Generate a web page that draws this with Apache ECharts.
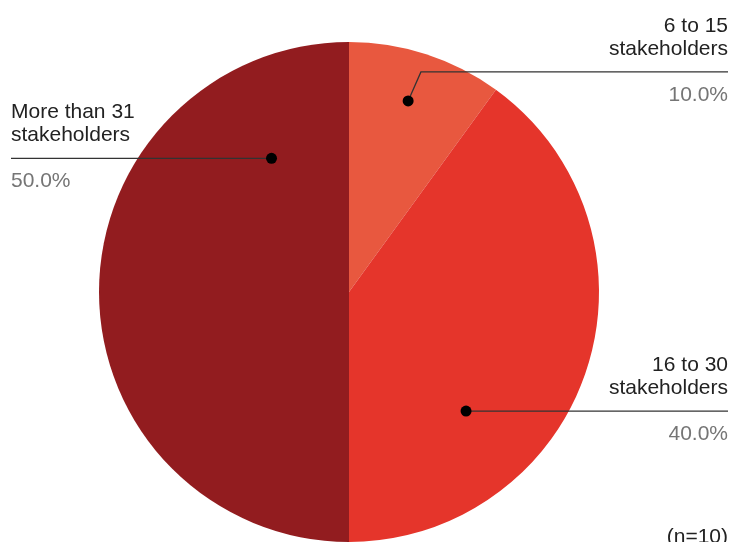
<!DOCTYPE html>
<html><head><meta charset="utf-8">
<script src="https://cdn.jsdelivr.net/npm/echarts@6/dist/echarts.min.js"></script>
<style>html,body{margin:0;padding:0;background:#fff}#c{width:732px;height:542px}</style>
</head><body><div id="c"></div>
<script>
// ---- data ----
const categories = ['6 to 15\nstakeholders', '16 to 30\nstakeholders', 'More than 31\nstakeholders'];
const values = [1, 4, 5];
const colors = ['#E8583F', '#E5352B', '#921C1F'];
const note = '(n=10)';

// ---- layout settings ----
const W = 732, H = 542;
const CX = 349, CY = 292, R = 250;
const LH = 23;
// leader line anchors: dot (angle in degrees, fraction of radius), optional elbow, side of text
const anchors = [
  { angle: 72.8, frac: 0.80, elbowAngle: 71.9, elbowFrac: 0.926, side: 'right' },
  { angle: -45.5, frac: 0.668, side: 'right' },
  { angle: 120.1, frac: 0.618, side: 'left' }
];
function pt(angleDeg, frac) {
  const a = angleDeg * Math.PI / 180;
  return [CX + Math.cos(a) * R * frac, CY - Math.sin(a) * R * frac];
}
function geom(i) {
  const a = anchors[i];
  const d = pt(a.angle, a.frac);
  const e = a.elbowAngle != null ? pt(a.elbowAngle, a.elbowFrac) : d;
  const endX = a.side === 'right' ? W - 4 : 11;
  return { d, e, endX, lineY: e[1], side: a.side };
}

const chart = echarts.init(document.getElementById('c'), null, { renderer: 'canvas' });
const font = '"Liberation Sans", Arial, sans-serif';

const leaders = [];
anchors.forEach((a, i) => {
  const g = geom(i);
  leaders.push({ type: 'polyline', z: 100, shape: { points: [g.d, g.e, [g.endX, g.lineY]] },
    style: { stroke: '#333', lineWidth: 1.3, fill: null } });
  leaders.push({ type: 'circle', z: 101, shape: { cx: g.d[0], cy: g.d[1], r: 5.5 }, style: { fill: '#000' } });
});

chart.setOption({
  animation: false,
  backgroundColor: '#fff',
  color: colors,
  series: [{
    type: 'pie',
    center: [CX, CY],
    radius: R,
    startAngle: 90,
    clockwise: true,
    avoidLabelOverlap: false,
    itemStyle: { borderWidth: 0 },
    emphasis: { disabled: true },
    label: {
      show: true,
      position: 'outside',
      fontFamily: font,
      fontSize: 21,
      lineHeight: LH,
      color: '#222',
      formatter: function (p) { return '{n|' + p.name + '}\n\n{p|' + p.percent.toFixed(1) + '%}'; },
      rich: {
        n: { fontFamily: font, fontSize: 21, lineHeight: LH, color: '#222' },
        p: { fontFamily: font, fontSize: 21, lineHeight: LH, color: '#757575' }
      }
    },
    labelLine: { show: false },
    labelLayout: function (params) {
      const g = geom(params.dataIndex);
      return {
        x: g.endX,
        y: g.lineY - 2.5 * LH,
        align: g.side === 'right' ? 'right' : 'left',
        verticalAlign: 'top'
      };
    },
    data: categories.map((c, i) => ({ name: c, value: values[i] }))
  }],
  graphic: leaders.concat([{
    type: 'text', x: W - 4, y: 537, z: 100,
    style: { text: note, fontFamily: font, fontSize: 21, fill: '#222', textAlign: 'right', textVerticalAlign: 'middle' }
  }])
});
</script>
</body></html>
